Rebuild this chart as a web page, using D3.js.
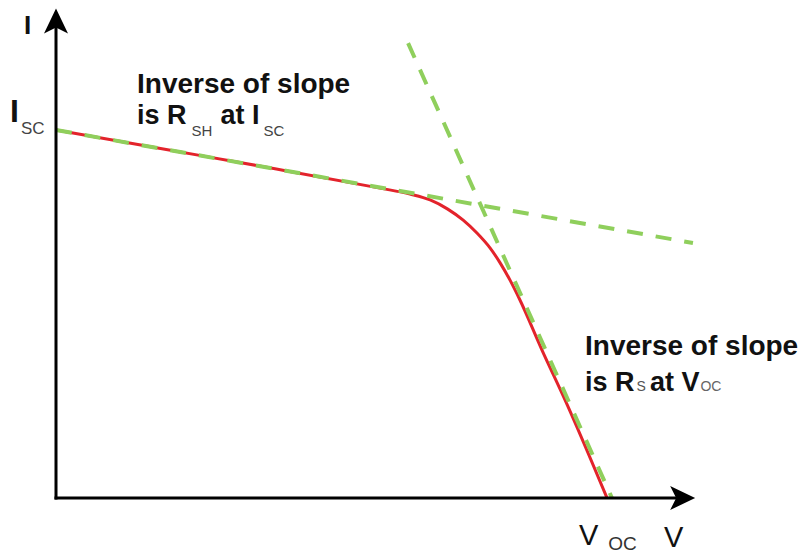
<!DOCTYPE html>
<html>
<head>
<meta charset="utf-8">
<script src="https://cdn.jsdelivr.net/npm/d3@7/dist/d3.min.js"></script>
<style>
  html, body { margin: 0; padding: 0; background: #fff; }
  svg { display: block; font-family: "Liberation Sans", Arial, sans-serif; }
</style>
</head>
<body>
<svg id="chart" width="801" height="554"></svg>
<script>
// Solar cell I-V curve (normalised: V / Voc, I / Isc)
const curveV = [0, 0.2, 0.4, 0.588, 0.6425, 0.679, 0.711, 0.739, 0.764, 0.788, 0.806, 0.824, 0.842, 0.882, 0.924, 1.0];
const curveI = [1.0, 0.947, 0.894, 0.842, 0.826, 0.810, 0.785, 0.755, 0.720, 0.679, 0.639, 0.592, 0.538, 0.402, 0.266, 0.0];

// Tangent at Isc (slope -> 1/R_SH) and tangent at Voc (slope -> 1/R_S)
const shuntV = [0, 1.156];
const shuntI = [1.0, 0.693];
const seriesV = [0.639, 1.009];
const seriesI = [1.236, 0.0];

// Axis extents (in the same normalised units)
const axisMaxV = 1.16;
const axisMaxI = 1.33;

const svg = d3.select("#chart");

const x = d3.scaleLinear().domain([0, 1]).range([56, 607]);
const y = d3.scaleLinear().domain([0, 1]).range([498, 130]);

// I-V curve
const ivPts = curveV.map((v, i) => [v, curveI[i]]);
const smooth = d3.line().x(d => x(d[0])).y(d => y(d[1])).curve(d3.curveMonotoneX);
svg.append("path")
  .attr("d", smooth(ivPts))
  .attr("fill", "none")
  .attr("stroke", "#e3232b")
  .attr("stroke-width", 3);

// Tangent lines
const straight = d3.line().x(d => x(d[0])).y(d => y(d[1]));
[[shuntV, shuntI], [seriesV, seriesI]].forEach(([vs, is]) => {
  svg.append("path")
    .attr("d", straight(vs.map((v, i) => [v, is[i]])))
    .attr("fill", "none")
    .attr("stroke", "#8fcf5c")
    .attr("stroke-width", 4)
    .attr("stroke-dasharray", "16,13")
    .attr("stroke-linecap", "butt");
});

// Axes with arrowheads
const x0 = x(0), y0 = y(0);
const xEnd = x(axisMaxV), yEnd = y(axisMaxI);
svg.append("line")
  .attr("x1", x0).attr("y1", y0 + 1.5).attr("x2", x0).attr("y2", yEnd + 12)
  .attr("stroke", "#000").attr("stroke-width", 3);
svg.append("line")
  .attr("x1", x0 - 1.5).attr("y1", y0).attr("x2", xEnd - 12).attr("y2", y0)
  .attr("stroke", "#000").attr("stroke-width", 3);
svg.append("path")
  .attr("d", `M${x0},${yEnd} L${x0 + 12},${yEnd + 25} L${x0},${yEnd + 19} L${x0 - 12},${yEnd + 25} Z`)
  .attr("fill", "#000");
svg.append("path")
  .attr("d", `M${xEnd},${y0} L${xEnd - 25},${y0 - 12} L${xEnd - 19},${y0} L${xEnd - 25},${y0 + 12} Z`)
  .attr("fill", "#000");

// Axis labels
svg.append("text").attr("x", 24).attr("y", 34)
  .attr("font-size", 26).attr("font-weight", "bold").attr("fill", "#111").text("I");
svg.append("text").attr("x", 664).attr("y", 547)
  .attr("font-size", 29).attr("fill", "#111").text("V");

// Isc label
const isc = svg.append("text").attr("x", 10).attr("y", 122).attr("fill", "#111");
isc.append("tspan").attr("font-size", 32).attr("font-weight", "bold").text("I");
isc.append("tspan").attr("font-size", 17).attr("fill", "#444").attr("dy", 12).attr("dx", 2).text("SC");

// Voc label
const voc = svg.append("text").attr("x", 579).attr("y", 545).attr("fill", "#111");
voc.append("tspan").attr("font-size", 29).text("V");
voc.append("tspan").attr("font-size", 19).attr("fill", "#333").attr("dy", 5).attr("dx", 10).text("OC");

// Annotation at Isc
const noteL = svg.append("g").attr("font-weight", "bold").attr("fill", "#111");
noteL.append("text").attr("x", 137).attr("y", 93).attr("font-size", 28).text("Inverse of slope");
const l2 = noteL.append("text").attr("x", 137).attr("y", 124).attr("font-size", 27);
l2.append("tspan").text("is R");
l2.append("tspan").attr("font-size", 15).attr("font-weight", "normal").attr("fill", "#444")
  .attr("dy", 12).attr("dx", 5).text("SH");
l2.append("tspan").attr("dy", -12).attr("dx", 8).text("at I");
l2.append("tspan").attr("font-size", 15).attr("font-weight", "normal").attr("fill", "#444")
  .attr("dy", 12).attr("dx", 4).text("SC");

// Annotation at Voc
const noteR = svg.append("g").attr("font-weight", "bold").attr("fill", "#111");
noteR.append("text").attr("x", 585).attr("y", 355).attr("font-size", 28).text("Inverse of slope");
const r2 = noteR.append("text").attr("x", 585).attr("y", 391).attr("font-size", 27);
r2.append("tspan").text("is R");
r2.append("tspan").attr("font-size", 14).attr("font-weight", "normal").attr("fill", "#555")
  .attr("dx", 2).text("S");
r2.append("tspan").attr("dx", 4).text("at V");
r2.append("tspan").attr("font-size", 14).attr("font-weight", "normal").attr("fill", "#666")
  .attr("dx", 1).text("OC");
</script>
</body>
</html>
